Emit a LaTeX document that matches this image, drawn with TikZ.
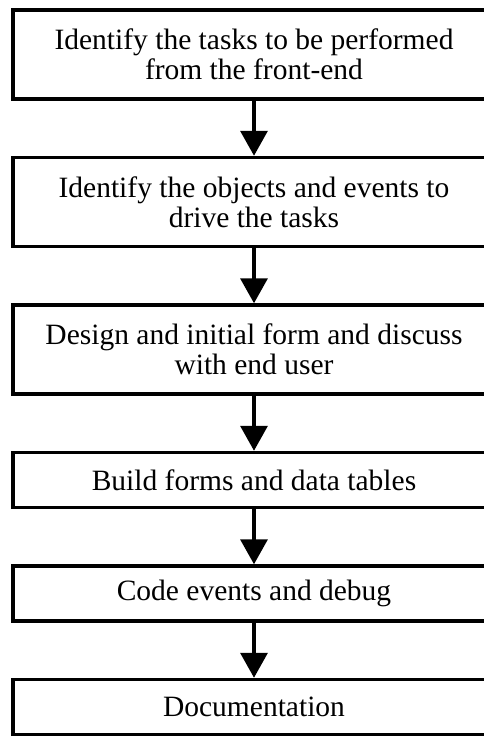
\documentclass[tikz,border=0pt]{standalone}
\usepackage{fontspec}
\setmainfont{Liberation Serif}
\usetikzlibrary{arrows.meta,positioning}

\begin{document}
\begin{tikzpicture}[
            > = {Triangle[width=27pt,length=25pt]}, % arrow head style
            node distance = 55pt, % gap between boxes
            stage/.style = {draw, rectangle, line width=3.5pt, inner sep=0pt,
                minimum width=482pt, minimum height=55pt, align=center,
                font=\fontsize{29.5}{30}\selectfont},
            tall/.style = {minimum height=89pt},
            line width=3.5pt
        ]
	\useasboundingbox (0,0) rectangle (483pt,-736pt);

	\node[stage,tall] (T1) at (254pt,-54.5pt) {Identify the tasks to be performed\\from the front-end};
	\node[stage,tall] (T2) [below=of T1] {Identify the objects and events to\\drive the tasks};
	\node[stage,tall] (T3) [below=of T2] {Design and initial form and discuss\\with end user};
	\node[stage] (T4) [below=of T3] {Build forms and data tables};
	\node[stage] (T5) [below=of T4] {Code events and debug};
	\node[stage] (T6) [below=of T5] {Documentation};

	\draw[->] (T1) -- (T2);
	\draw[->] (T2) -- (T3);
	\draw[->] (T3) -- (T4);
	\draw[->] (T4) -- (T5);
	\draw[->] (T5) -- (T6);

\end{tikzpicture}
\end{document}
